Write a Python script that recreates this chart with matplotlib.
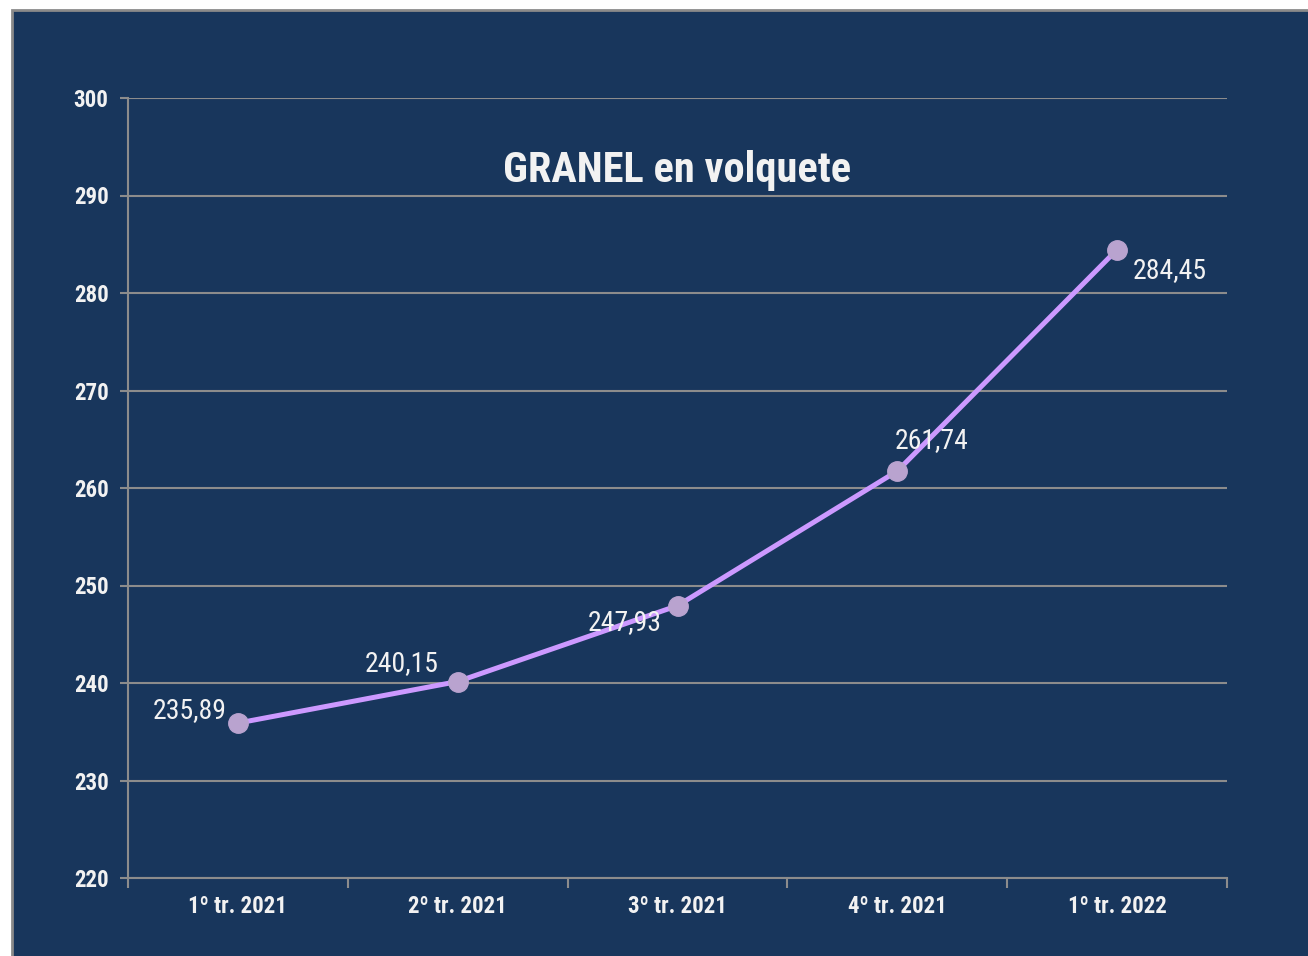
import matplotlib.pyplot as plt
from matplotlib.patches import Rectangle

categories = ["1º tr. 2021", "2º tr. 2021", "3º tr. 2021", "4º tr. 2021", "1º tr. 2022"]
values = [235.89, 240.15, 247.93, 261.74, 284.45]
value_labels = ["235,89", "240,15", "247,93", "261,74", "284,45"]
y_ticks = [220, 230, 240, 250, 260, 270, 280, 290, 300]

# label offsets in points (dx, dy, ha)
label_pos = [
    (-8, 9, "right"),
    (-40, 13, "center"),
    (-38, -12, "center"),
    (25, 22, "center"),
    (38, -15, "center"),
]

plt.rcParams["font.family"] = ["Roboto Condensed", "Roboto", "DejaVu Sans"]

bg = "#18365C"
grid_col = "#8C8C8C"
text_col = "#F2F2F2"

W, H = 1308, 956
fig = plt.figure(figsize=(W / 100, H / 100), dpi=100)
fig.patch.set_facecolor("white")
fig.patches.append(
    Rectangle((11.5 / W, -0.01), 1.02, (H - 9.5) / H + 0.01, transform=fig.transFigure,
              facecolor=bg, edgecolor="#8A8A8A", linewidth=2.0, zorder=-5)
)

ax = fig.add_axes([128 / W, (H - 878) / H, (1227 - 128) / W, (878 - 98) / H])
ax.set_facecolor(bg)

x = list(range(len(categories)))
ax.plot(x, values, color="#CC99FF", linewidth=3.6, zorder=3,
        marker="o", markersize=14, markerfacecolor="#B9A3CF", markeredgecolor="#B9A3CF")

for i, (v, lab) in enumerate(zip(values, value_labels)):
    dx, dy, ha = label_pos[i]
    ax.annotate(lab, (i, v), xytext=(dx, dy), textcoords="offset points",
                ha=ha, va="center", color=text_col, fontsize=20, zorder=4)

ax.set_xlim(-0.5, len(categories) - 0.5)
ax.set_ylim(220, 300)
ax.set_yticks(y_ticks)
ax.set_yticklabels([str(t) for t in y_ticks], fontsize=16.5, fontweight="bold", color=text_col)

ax.set_xticks([i - 0.5 for i in range(len(categories) + 1)])
ax.set_xticklabels([])
ax.set_xticks(x, minor=True)
ax.set_xticklabels(categories, minor=True, fontsize=16.5, fontweight="bold", color=text_col)
ax.tick_params(axis="x", which="major", length=7, width=1.5, color=grid_col, direction="out")
ax.tick_params(axis="x", which="minor", length=0, pad=12.5)
ax.tick_params(axis="y", length=6, width=1.5, color=grid_col, pad=8)

ax.grid(axis="y", color=grid_col, linewidth=1.5, zorder=1)
ax.set_axisbelow(True)
for side in ["top", "right"]:
    ax.spines[side].set_visible(False)
for side in ["left", "bottom"]:
    ax.spines[side].set_color(grid_col)
    ax.spines[side].set_linewidth(1.5)

ax.text(0.5, 0.907, "GRANEL en volquete", transform=ax.transAxes, ha="center", va="center",
        fontsize=30.5, fontweight="bold", color=text_col)

fig.savefig("out.png", dpi=100)
